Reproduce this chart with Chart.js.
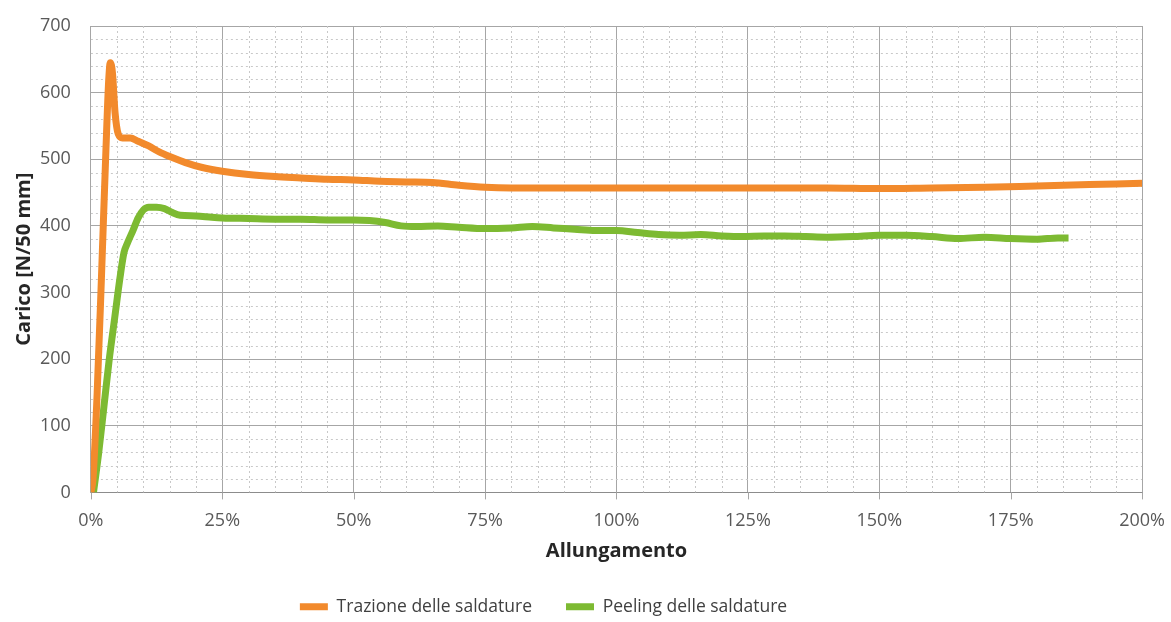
<!DOCTYPE html>
<html>
<head>
<meta charset="utf-8">
<script src="https://cdn.jsdelivr.net/npm/chart.js@4.4.1/dist/chart.umd.min.js"></script>
<style>
  html, body { margin: 0; padding: 0; background: #fff; }
  #wrap { width: 1171px; height: 622px; position: relative; }
</style>
</head>
<body>
<div id="wrap"><canvas id="chart"></canvas></div>
<script>
// Elongation (%) and load (N/50 mm) for the two weld tests
const TRAZIONE_X = [0, 0.4, 1.2, 2, 2.8, 3.4, 3.7, 4.1, 4.6, 5.2, 6, 7.5, 9, 11, 13, 15, 18, 21, 25, 30, 35, 40, 45, 50, 55, 60, 65, 70, 75, 80, 90, 100, 110, 120, 130, 140, 150, 160, 170, 180, 190, 200];
const TRAZIONE_Y = [0, 20, 150, 320, 500, 620, 645, 630, 570, 538, 532, 532, 527, 520, 511, 504, 495, 488, 482, 477, 474, 472, 470, 469, 467, 466, 465, 461, 458, 457, 457, 457, 457, 457, 457, 457, 456, 457, 458, 460, 462, 464];

const PEELING_X = [0.5, 1.5, 2.5, 3.5, 4.5, 5.5, 6.3, 7, 8, 9, 10, 11, 12.5, 14, 15.5, 17, 20, 23, 25, 30, 35, 40, 45, 50, 53, 56, 59, 62, 66, 70, 75, 80, 84, 88, 92, 96, 100, 104, 108, 112, 116, 120, 124, 128, 132, 136, 140, 145, 150, 155, 160, 165, 170, 175, 180, 184, 186];
const PEELING_Y = [0, 60, 130, 200, 260, 320, 360, 375, 393, 412, 424, 428, 428, 426, 420, 416, 415, 413, 412, 411, 410, 410, 409, 409, 408, 405, 400, 399, 400, 398, 396, 397, 399, 397, 395, 393, 393, 390, 387, 386, 387, 385, 384, 385, 385, 384, 383, 384, 386, 386, 384, 381, 383, 381, 380, 382, 382];

const X_MIN = 0, X_MAX = 200, X_STEP = 25, X_MINOR = 5;
const Y_MIN = 0, Y_MAX = 700, Y_STEP = 100, Y_MINOR = 20;

const FONT = '"Open Sans", Calibri, sans-serif';
const TEXT = '#595959';
const GRID = '#a6a6a6';

const toPoints = (xs, ys) => xs.map((x, i) => ({ x, y: ys[i] }));

// dotted minor grid plus short tick marks under the x axis
const minorGrid = {
  id: 'minorGrid',
  beforeDatasetsDraw(chart) {
    const { ctx, chartArea: a, scales: { x, y } } = chart;
    ctx.save();
    ctx.strokeStyle = '#c8c8c8';
    ctx.lineWidth = 1;
    ctx.setLineDash([2, 3]);
    for (let v = X_MIN + X_MINOR; v < X_MAX; v += X_MINOR) {
      if (v % X_STEP === 0) continue;
      const px = Math.round(x.getPixelForValue(v)) + 0.5;
      ctx.beginPath(); ctx.moveTo(px, a.top); ctx.lineTo(px, a.bottom); ctx.stroke();
    }
    for (let v = Y_MIN + Y_MINOR; v < Y_MAX; v += Y_MINOR) {
      if (v % Y_STEP === 0) continue;
      const py = Math.round(y.getPixelForValue(v)) + 0.5;
      ctx.beginPath(); ctx.moveTo(a.left, py); ctx.lineTo(a.right, py); ctx.stroke();
    }
    ctx.setLineDash([]);
    ctx.strokeStyle = GRID;
    for (let v = X_MIN; v <= X_MAX; v += X_STEP) {
      const px = Math.round(x.getPixelForValue(v)) + 0.5;
      ctx.beginPath(); ctx.moveTo(px, a.bottom); ctx.lineTo(px, a.bottom + 7); ctx.stroke();
    }
    ctx.restore();
  }
};

// legend sits a bit left of the canvas centre
const legendShift = {
  id: 'legendShift',
  afterLayout(chart) {
    const l = chart.legend;
    if (!l) return;
    l.left -= 32;
    l.right -= 32;
  }
};

new Chart(document.getElementById('chart'), {
  type: 'line',
  data: {
    datasets: [
      {
        label: 'Trazione delle saldature',
        data: toPoints(TRAZIONE_X, TRAZIONE_Y),
        borderColor: '#F28A2C',
        backgroundColor: '#F28A2C',
        borderWidth: 7,
        pointRadius: 0,
        cubicInterpolationMode: 'monotone'
      },
      {
        label: 'Peeling delle saldature',
        data: toPoints(PEELING_X, PEELING_Y),
        borderColor: '#7DBA32',
        backgroundColor: '#7DBA32',
        borderWidth: 7,
        pointRadius: 0,
        cubicInterpolationMode: 'monotone'
      }
    ]
  },
  options: {
    responsive: true,
    maintainAspectRatio: false,
    animation: false,
    layout: { padding: { left: 8, right: 28, top: 26, bottom: 0 } },
    plugins: {
      tooltip: { enabled: false },
      legend: {
        position: 'bottom',
        maxHeight: 58,
        labels: {
          color: '#404040',
          font: { family: FONT, size: 17.5 },
          usePointStyle: true,
          pointStyle: 'line',
          pointStyleWidth: 28,
          padding: 34
        }
      }
    },
    scales: {
      x: {
        type: 'linear',
        min: X_MIN, max: X_MAX,
        ticks: {
          stepSize: X_STEP,
          color: TEXT,
          font: { family: FONT, size: 18 },
          padding: 6,
          callback: v => v + '%'
        },
        grid: { color: GRID, lineWidth: 1, tickLength: 12, tickColor: 'rgba(0,0,0,0)' },
        border: { color: '#8c8c8c', width: 1 },
        title: {
          display: true,
          text: 'Allungamento',
          color: '#262626',
          font: { family: FONT, size: 20, weight: 'bold' },
          padding: { top: 1, bottom: 1 }
        }
      },
      y: {
        min: Y_MIN, max: Y_MAX,
        ticks: {
          stepSize: Y_STEP,
          color: TEXT,
          font: { family: FONT, size: 18 },
          padding: 4
        },
        grid: { color: GRID, lineWidth: 1, tickLength: 16, tickColor: 'rgba(0,0,0,0)' },
        border: { color: GRID, width: 1 },
        title: {
          display: true,
          text: 'Carico [N/50 mm]',
          color: '#262626',
          font: { family: FONT, size: 20, weight: 'bold' },
          padding: { bottom: 0 }
        }
      }
    }
  },
  plugins: [minorGrid, legendShift]
});
</script>
</body>
</html>
